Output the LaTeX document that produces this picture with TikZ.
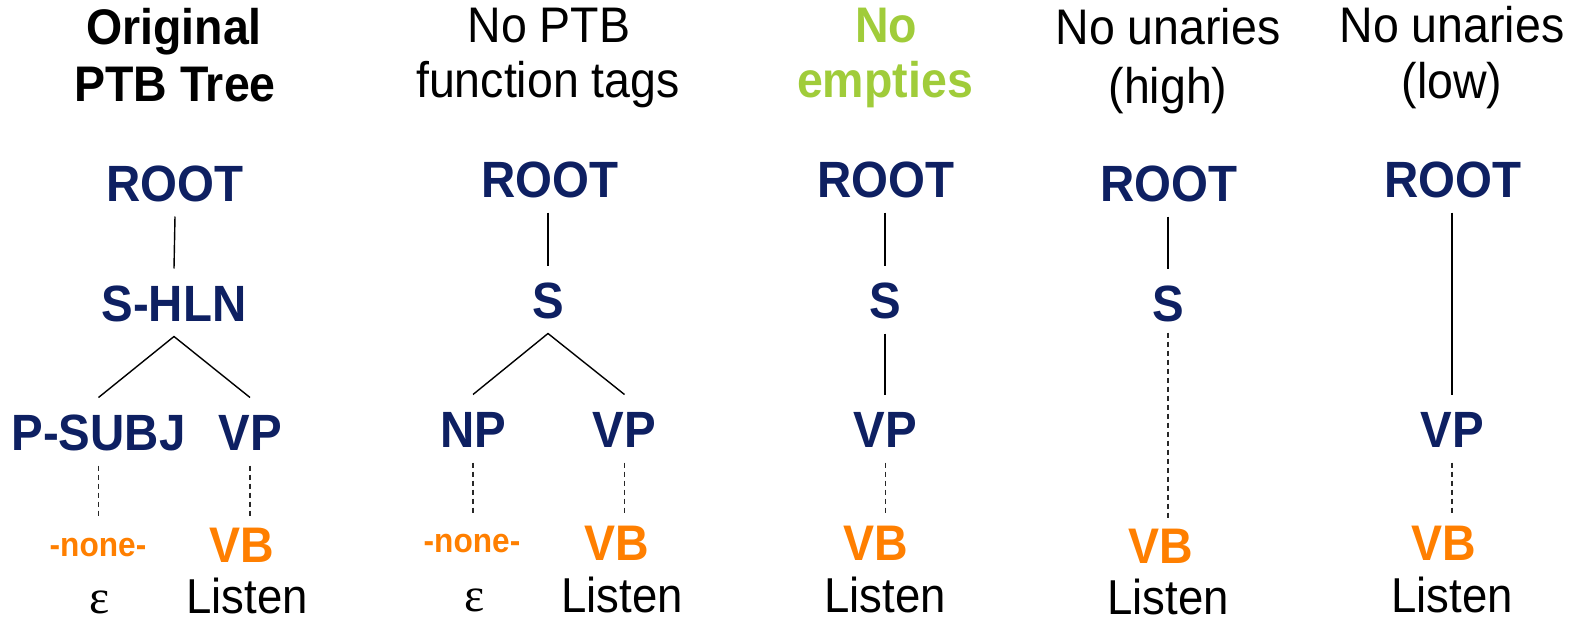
\documentclass[tikz,border=0pt]{standalone}
\usepackage{fontspec}
\setmainfont[FakeStretch=0.93]{Liberation Sans}
\newfontfamily\epsfont{Liberation Serif}
\definecolor{navy}{RGB}{14,32,98}
\definecolor{orangec}{RGB}{255,127,0}
\definecolor{greenc}{RGB}{160,204,58}
\definecolor{dgray}{RGB}{40,40,40}
\tikzset{
  tree/.style={font=\bfseries\fontsize{51}{51}\selectfont, text=navy, inner sep=0pt, outer ysep=15.5pt, text height=37pt, text depth=0pt, anchor=base},
  leaf/.style={font=\bfseries\fontsize{50}{50}\selectfont, text=orangec, inner sep=0pt, outer sep=0pt, text height=45pt, text depth=0pt, anchor=base},
  nonelab/.style={font=\bfseries\fontsize{34}{34}\selectfont, text=orangec, inner sep=0pt, outer sep=0pt, text height=39pt, text depth=0pt, anchor=base},
  word/.style={font=\fontsize{49}{49}\selectfont, text=black, inner sep=0pt, anchor=base},
  epslab/.style={font=\epsfont\fontsize{48}{48}\selectfont, text=black, inner sep=0pt, anchor=base},
  title/.style={font=\fontsize{50}{50}\selectfont, text=black, inner sep=0pt, anchor=base},
  titleb/.style={font=\bfseries\fontsize{50}{50}\selectfont, text=black, inner sep=0pt, anchor=base},
  titleg/.style={font=\bfseries\fontsize{50}{50}\selectfont, text=greenc, inner sep=0pt, anchor=base},
  solidedge/.style={draw=black, line width=1.4pt},
  dashedge/.style={draw=dgray, line width=1.6pt, dash pattern=on 5pt off 4pt}
}
\begin{document}
\begin{tikzpicture}[x=1pt,y=-1pt]
\useasboundingbox (0,0) rectangle (1583,618);
% ---------- column 1 ----------
\node[titleb] (t1a) at (174,45) {Original};
\node[titleb] (t1b) at (175,102) {PTB Tree};
\node[tree] (r1) at (175,201) {ROOT};
\node[tree] (s1) at (174,321) {S-HLN};
\node[tree] (p1) at (98.5,450) {P-SUBJ};
\node[tree] (vp1) at (250,450) {VP};
\node[nonelab] (n1) at (98,556) {-none-};
\node[leaf] (vb1) at (242,562) {VB};
\node[epslab] (e1) at (100,613) {ε};
\node[word] (l1) at (247,613) {Listen};
\draw[solidedge] (r1.south) -- (s1.north);
\draw[solidedge] (p1.north) -- (s1.south) -- (vp1.north);
\draw[dashedge] (p1.south) -- (p1.south |- n1.north);
\draw[dashedge] (vp1.south) -- (vp1.south |- vb1.north);
% ---------- column 2 ----------
\node[title] (t2a) at (549,43) {No PTB};
\node[title] (t2b) at (548,98) {function tags};
\node[tree] (r2) at (550,197) {ROOT};
\node[tree] (s2) at (548,318) {S};
\node[tree] (np2) at (473,447) {NP};
\node[tree] (vp2) at (624.5,447) {VP};
\node[nonelab] (n2) at (472,552) {-none-};
\node[leaf] (vb2) at (617,560) {VB};
\node[epslab] (e2) at (475,611) {ε};
\node[word] (l2) at (622,612) {Listen};
\draw[solidedge] (r2.south -| s2.north) -- (s2.north);
\draw[solidedge] (np2.north) -- (s2.south) -- (vp2.north);
\draw[dashedge] (np2.south) -- (np2.south |- n2.north);
\draw[dashedge] (vp2.south) -- (vp2.south |- vb2.north);
% ---------- column 3 ----------
\node[titleg] (t3a) at (886,43) {No};
\node[titleg] (t3b) at (885,98) {empties};
\node[tree] (r3) at (886,197) {ROOT};
\node[tree] (s3) at (885,318) {S};
\node[tree] (vp3) at (885.5,447) {VP};
\node[leaf] (vb3) at (876,560) {VB};
\node[word] (l3) at (885,612) {Listen};
\draw[solidedge] (r3.south -| s3.north) -- (s3.north);
\draw[solidedge] (s3.south) -- (s3.south |- vp3.north);
\draw[dashedge] (vp3.south) -- (vp3.south |- vb3.north);
% ---------- column 4 ----------
\node[title] (t4a) at (1168,45) {No unaries};
\node[title] (t4b) at (1168,103) {(high)};
\node[tree] (r4) at (1169,201) {ROOT};
\node[tree] (s4) at (1168,321) {S};
\node[leaf] (vb4) at (1161,563) {VB};
\node[word] (l4) at (1168,614) {Listen};
\draw[solidedge] (r4.south -| s4.north) -- (s4.north);
\draw[dashedge, shorten <=-4pt] (s4.south) -- (s4.south |- vb4.north);
% ---------- column 5 ----------
\node[title] (t5a) at (1452,43) {No unaries};
\node[title] (t5b) at (1452,99) {(low)};
\node[tree] (r5) at (1453,197) {ROOT};
\node[tree] (vp5) at (1452,447) {VP};
\node[leaf] (vb5) at (1444,560) {VB};
\node[word] (l5) at (1452,612) {Listen};
\draw[solidedge] (r5.south -| vp5.north) -- (vp5.north);
\draw[dashedge] (vp5.south) -- (vp5.south |- vb5.north);
\end{tikzpicture}
\end{document}
